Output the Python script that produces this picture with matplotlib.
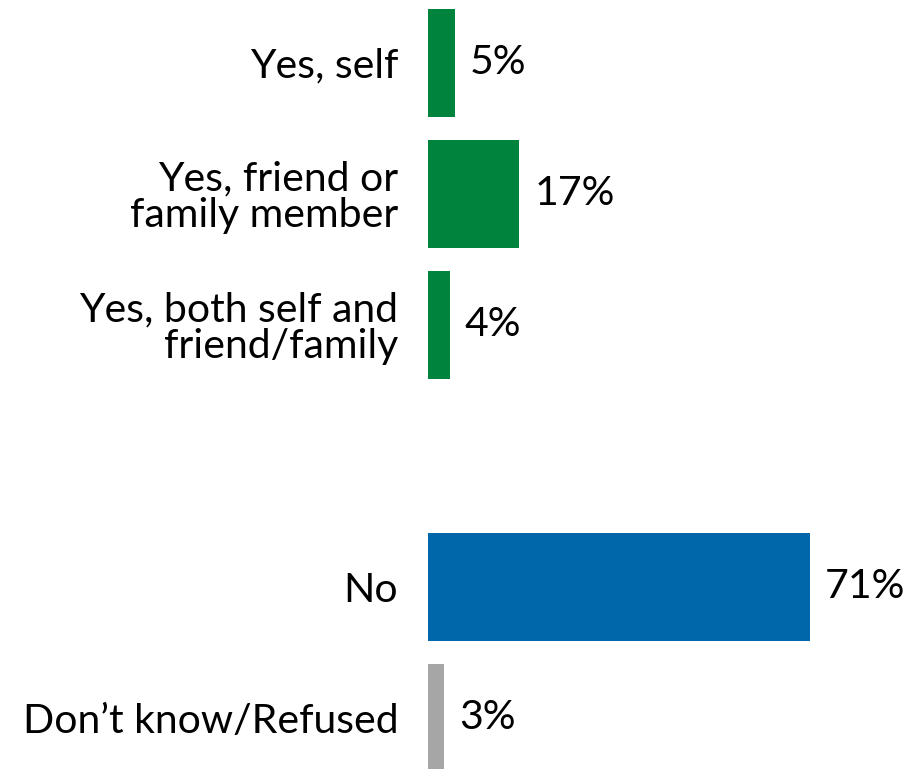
import matplotlib.pyplot as plt
from matplotlib.transforms import offset_copy

## Data
labels = ['Yes, self', 'Yes, friend or\nfamily member', 'Yes, both self and\nfriend/family',
          'No', 'Don\u2019t know/Refused']
values = [5, 17, 4, 71, 3]
slots = [0, 1, 2, 4, 5]
colors = ['#00843D', '#00843D', '#00843D', '#0067AA', '#A6A6A6']

plt.rcParams['font.family'] = ['Lato', 'DejaVu Sans']

fig = plt.figure(figsize=(9.18, 7.69), dpi=100)
ax = fig.add_axes([428 / 918, 0, 490 / 918, 1])

ax.barh(slots, values, height=0.82, color=colors)
ax.set_xlim(0, 91.1)
ax.set_ylim(5.39, -0.48)

ax.set_yticks(slots, labels, fontsize=29.5, ha='right', linespacing=1.0)
ax.tick_params(axis='y', length=0, pad=21.5)
ax.set_xticks([])
for s in ax.spines.values():
    s.set_visible(False)

# value labels
tr = offset_copy(ax.transData, fig=fig, x=15, y=0, units='dots')
for s, v in zip(slots, values):
    ax.text(v, s, f'{v}%', transform=tr, va='center', ha='left', fontsize=29.5)

fig.savefig('out.png', dpi=100)
